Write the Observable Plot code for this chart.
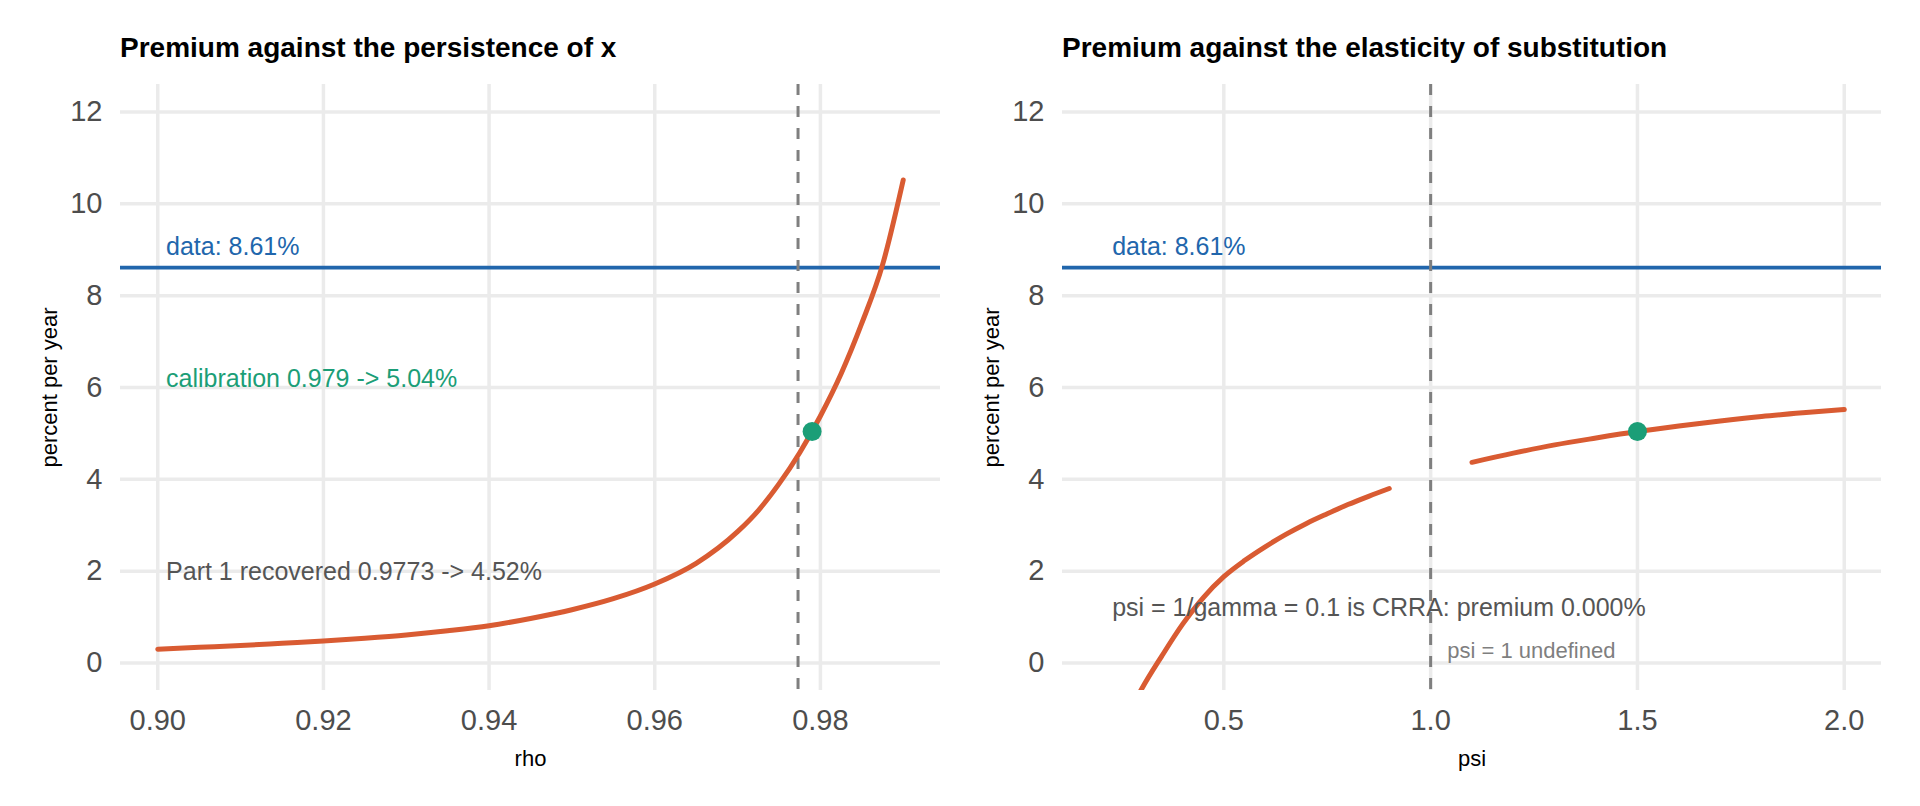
<!DOCTYPE html>
<html>
<head>
<meta charset="utf-8">
<script src="https://cdn.jsdelivr.net/npm/d3@7"></script>
<script src="https://cdn.jsdelivr.net/npm/@observablehq/plot@0.6"></script>
<style>
  body { margin: 0; background: #fff; font-family: "Liberation Sans", Arial, Helvetica, sans-serif; }
  #wrap { display: flex; width: 1920px; height: 806px; }
  .panel { width: 960px; height: 806px; position: relative; }
  .title { height: 70px; box-sizing: border-box; padding-top: 34px; font-size: 28px; line-height: 28px;
           font-weight: bold; color: #000; white-space: nowrap; }
  svg { display: block; }
</style>
</head>
<body>
<div id="wrap">
  <div class="panel" id="p1"><div class="title" style="padding-left:120px">Premium against the persistence of x</div></div>
  <div class="panel" id="p2"><div class="title" style="padding-left:102px">Premium against the elasticity of substitution</div></div>
</div>
<script>
// ---- data ----
const rhoValues     = [0.900, 0.905, 0.910, 0.915, 0.920, 0.925, 0.930, 0.935, 0.940, 0.945, 0.950, 0.955, 0.960, 0.965, 0.970, 0.9725, 0.975, 0.9775, 0.980, 0.9825, 0.985, 0.9875, 0.990];
const rhoPremium    = [0.30, 0.34, 0.38, 0.43, 0.48, 0.54, 0.61, 0.70, 0.81, 0.97, 1.16, 1.40, 1.72, 2.17, 2.86, 3.32, 3.90, 4.58, 5.38, 6.30, 7.40, 8.67, 10.52];

const psiLowValues  = [0.20, 0.25, 0.30, 0.35, 0.40, 0.45, 0.50, 0.55, 0.60, 0.65, 0.70, 0.75, 0.80, 0.85, 0.90];
const psiLowPremium = [-3.0, -1.5, -0.59, 0.15, 0.84, 1.42, 1.88, 2.23, 2.53, 2.80, 3.04, 3.25, 3.45, 3.63, 3.80];

const psiHighValues  = [1.1, 1.2, 1.3, 1.4, 1.5, 1.6, 1.7, 1.8, 1.9, 2.0];
const psiHighPremium = [4.37, 4.57, 4.75, 4.90, 5.04, 5.16, 5.27, 5.37, 5.45, 5.52];

const dataPremium   = 8.61;
const part1Rho      = 0.9773;
const calibRho      = 0.979;
const calibPremium  = 5.04;
const calibPsi      = 1.5;
const psiUndefined  = 1.0;

const yTicks   = [0, 2, 4, 6, 8, 10, 12];
const rhoTicks = [0.90, 0.92, 0.94, 0.96, 0.98];
const psiTicks = [0.5, 1.0, 1.5, 2.0];

const leftNotes = [
  {x: 0.901, y: 9.06, text: "data: 8.61%", color: "#2166AC", size: 25},
  {x: 0.901, y: 6.18, text: "calibration 0.979 -> 5.04%", color: "#1B9E77", size: 25},
  {x: 0.901, y: 1.99, text: "Part 1 recovered 0.9773 -> 4.52%", color: "#555555", size: 25}
];
const rightNotes = [
  {x: 0.23, y: 9.06, text: "data: 8.61%", color: "#2166AC", size: 25},
  {x: 0.23, y: 1.19, text: "psi = 1/gamma = 0.1 is CRRA: premium 0.000%", color: "#555555", size: 25},
  {x: 1.04, y: 0.26, text: "psi = 1 undefined", color: "#7F7F7F", size: 22}
];

// ---- styling ----
const ORANGE = "#D95B32", BLUE = "#2166AC", GREEN = "#1B9E77", GRID = "#EBEBEB";
const FONT = "Liberation Sans, Arial, Helvetica, sans-serif";

const rhoData = rhoValues.map((r, i) => ({x: r, y: rhoPremium[i]}));
const psiLow  = psiLowValues.map((p, i) => ({x: p, y: psiLowPremium[i]}));
const psiHigh = psiHighValues.map((p, i) => ({x: p, y: psiHighPremium[i]}));

function panel({xDomain, xTicks, xFormat, xLabel, marginLeft, marginRight, vline, lines, dot, notes}) {
  return Plot.plot({
    width: 960, height: 736,
    marginLeft, marginRight, marginTop: 14, marginBottom: 116,
    style: {fontFamily: FONT, background: "white", color: "#4D4D4D", overflow: "visible"},
    x: {domain: xDomain, label: null},
    y: {domain: [-0.6, 12.6], label: null},
    marks: [
      Plot.gridX(xTicks, {stroke: GRID, strokeOpacity: 1, strokeWidth: 3.5}),
      Plot.gridY(yTicks, {stroke: GRID, strokeOpacity: 1, strokeWidth: 3.5}),
      Plot.axisX(xTicks, {tickSize: 0, tickPadding: 19, fontSize: 29, tickFormat: xFormat, label: null}),
      Plot.axisY(yTicks, {tickSize: 0, tickPadding: 18, fontSize: 29, label: null}),
      Plot.ruleY([dataPremium], {stroke: BLUE, strokeWidth: 3.8}),
      Plot.ruleX([vline], {stroke: "#7F7F7F", strokeWidth: 3, strokeDasharray: "11,11"}),
      ...lines.map(d => Plot.line(d, {x: "x", y: "y", stroke: ORANGE, strokeWidth: 5, curve: "monotone-x", clip: true})),
      Plot.dot([dot], {x: "x", y: "y", r: 9.5, fill: GREEN, stroke: null}),
      Plot.text(notes, {x: "x", y: "y", text: "text", fill: d => d.color, fontSize: d => d.size,
                        textAnchor: "start", lineAnchor: "middle"}),
      Plot.text([xLabel], {text: d => d, frameAnchor: "bottom", textAnchor: "middle", lineAnchor: "middle",
                           dy: 68, fontSize: 22, fill: "black"}),
      Plot.text(["percent per year"], {text: d => d, frameAnchor: "left", textAnchor: "middle", lineAnchor: "middle",
                           rotate: -90, dx: -71, fontSize: 22, fill: "black"})
    ]
  });
}

const left = panel({
  xDomain: [0.8955, 0.9945], xTicks: rhoTicks, xFormat: d3.format(".2f"), xLabel: "rho",
  marginLeft: 120, marginRight: 20, vline: part1Rho, lines: [rhoData],
  dot: {x: calibRho, y: calibPremium}, notes: leftNotes
});
const right = panel({
  xDomain: [0.11, 2.09], xTicks: psiTicks, xFormat: d3.format(".1f"), xLabel: "psi",
  marginLeft: 102, marginRight: 39, vline: psiUndefined, lines: [psiLow, psiHigh],
  dot: {x: calibPsi, y: calibPremium}, notes: rightNotes
});
document.getElementById("p1").appendChild(left);
document.getElementById("p2").appendChild(right);
</script>
</body>
</html>
